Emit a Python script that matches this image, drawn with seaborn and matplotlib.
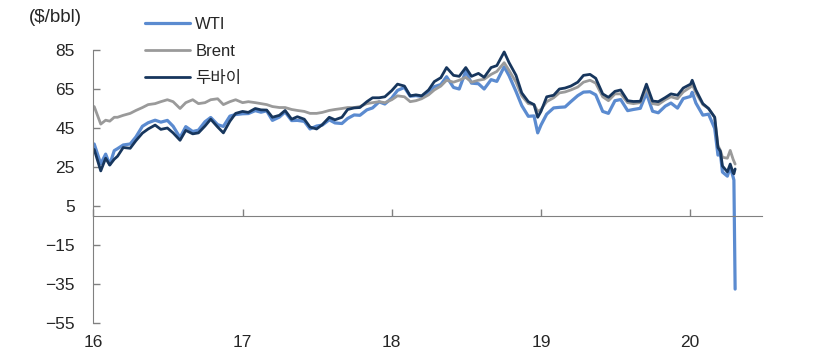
import pandas as pd
import matplotlib
matplotlib.use("Agg")
import matplotlib.pyplot as plt
import matplotlib.dates as mdates
import seaborn as sns

# semi-monthly dates, plus a few extra points where the price spiked or dipped
dates = [
    # 2016
    "2016-01-04", "2016-01-20", "2016-02-01", "2016-02-11", "2016-02-22", "2016-03-01",
    "2016-03-15", "2016-04-01", "2016-04-15", "2016-05-01", "2016-05-15", "2016-06-01",
    "2016-06-15", "2016-07-01", "2016-07-15", "2016-08-01", "2016-08-15", "2016-09-01",
    "2016-09-15", "2016-10-01", "2016-10-15", "2016-11-01", "2016-11-15", "2016-12-01",
    "2016-12-15",
    # 2017
    "2017-01-01", "2017-01-15", "2017-02-01", "2017-02-15", "2017-03-01", "2017-03-15",
    "2017-04-01", "2017-04-15", "2017-05-01", "2017-05-15", "2017-06-01", "2017-06-15",
    "2017-07-01", "2017-07-15", "2017-08-01", "2017-08-15", "2017-09-01", "2017-09-15",
    "2017-10-01", "2017-10-15", "2017-11-01", "2017-11-15", "2017-12-01", "2017-12-15",
    # 2018
    "2018-01-01", "2018-01-15", "2018-02-01", "2018-02-15", "2018-03-01", "2018-03-15",
    "2018-04-01", "2018-04-15", "2018-05-01", "2018-05-15", "2018-06-01", "2018-06-15",
    "2018-07-01", "2018-07-15", "2018-08-01", "2018-08-15", "2018-09-01", "2018-09-15",
    "2018-10-03", "2018-10-15", "2018-11-01", "2018-11-15", "2018-12-01", "2018-12-15",
    "2018-12-24",
    # 2019
    "2019-01-01", "2019-01-15", "2019-02-01", "2019-02-15", "2019-03-01", "2019-03-15",
    "2019-04-01", "2019-04-15", "2019-05-01", "2019-05-15", "2019-06-01", "2019-06-15",
    "2019-07-01", "2019-07-15", "2019-08-01", "2019-08-15", "2019-09-01", "2019-09-16",
    "2019-10-01", "2019-10-15", "2019-11-01", "2019-11-15", "2019-12-01", "2019-12-15",
    # 2020
    "2020-01-02", "2020-01-06", "2020-01-15", "2020-02-01", "2020-02-15", "2020-03-01",
    "2020-03-09", "2020-03-15", "2020-03-20", "2020-04-01", "2020-04-08", "2020-04-15",
    "2020-04-17", "2020-04-20",
]

wti = [
    36.8, 26.6, 31.6, 26.2, 33.4, 34.4, 36.3, 36.8, 40.4, 45.9, 47.7, 49.0, 48.0,
    48.9, 45.9, 40.1, 45.7, 43.2, 43.9, 48.2, 50.4, 46.7, 45.8, 51.1, 51.9,
    52.3, 52.4, 53.9, 53.1, 53.8, 48.9, 50.6, 53.2, 48.8, 48.9, 48.4, 44.5,
    46.0, 46.5, 49.2, 47.6, 47.3, 49.9, 51.7, 51.5, 54.3, 55.3, 58.4, 57.3,
    60.4, 64.3, 65.8, 61.3, 61.6, 61.2, 63.5, 66.2, 67.3, 71.3, 65.8, 65.0,
    74.1, 68.0, 67.7, 65.0, 69.8, 68.9, 76.4, 71.8, 63.7, 56.5, 51.0, 51.2, 42.5,
    46.5, 52.1, 55.3, 55.6, 55.8, 58.5, 61.6, 63.4, 63.6, 62.0, 53.5, 52.5,
    59.0, 59.6, 53.9, 54.5, 55.1, 62.9, 53.6, 52.8, 56.2, 57.8, 55.2, 60.1,
    61.2, 63.3, 57.8, 51.6, 52.1, 44.8, 31.1, 31.7, 22.4, 20.3, 25.1, 19.9, 18.3, -37.6,
]

brent = [
    56.0, 47.0, 49.0, 48.5, 50.5, 50.5, 51.5, 52.5, 54.0, 55.5, 57.0, 57.5, 58.5,
    59.5, 58.5, 55.0, 58.0, 59.5, 57.5, 58.0, 59.5, 60.0, 57.0, 58.5, 59.5,
    58.0, 58.5, 58.0, 57.5, 57.0, 56.0, 55.5, 55.5, 54.5, 54.0, 53.5, 52.5,
    52.5, 53.0, 54.0, 54.5, 55.0, 55.5, 55.5, 56.0, 57.5, 58.0, 58.5, 58.0,
    59.5, 61.5, 61.0, 58.5, 59.0, 60.0, 62.0, 64.5, 66.5, 69.5, 68.5, 69.5,
    71.0, 68.5, 69.5, 70.0, 72.5, 74.0, 78.5, 74.5, 68.5, 61.5, 57.5, 57.0, 53.5,
    54.5, 58.5, 60.5, 63.0, 63.5, 64.5, 66.0, 68.5, 69.5, 68.0, 61.0, 59.0,
    62.5, 62.5, 58.0, 57.5, 58.0, 65.5, 57.5, 57.0, 59.5, 61.0, 60.0, 63.5,
    66.0, 67.5, 63.0, 57.0, 55.0, 50.5, 36.0, 33.5, 30.0, 29.5, 33.5, 29.0, 28.0, 26.5,
]

dubai = [
    34.0, 23.0, 29.5, 26.0, 29.0, 30.5, 35.0, 34.6, 38.5, 42.4, 44.5, 46.5, 44.3,
    45.0, 42.5, 38.7, 43.8, 42.0, 42.5, 46.0, 49.5, 45.5, 42.5, 48.5, 52.5,
    53.5, 53.0, 55.0, 54.3, 54.2, 50.5, 51.5, 54.0, 49.5, 50.8, 49.5, 45.5,
    44.5, 46.7, 50.5, 49.2, 50.5, 54.5, 55.3, 55.5, 58.5, 60.5, 60.5, 61.0,
    64.2, 67.5, 66.5, 61.5, 62.0, 61.5, 64.5, 68.8, 70.8, 76.0, 72.0, 71.5,
    76.0, 71.5, 73.0, 71.0, 76.0, 77.0, 84.0, 78.5, 72.0, 63.0, 58.5, 57.0, 50.5,
    53.5, 61.0, 61.8, 65.0, 65.5, 66.5, 68.5, 72.0, 72.5, 70.5, 62.5, 60.7,
    63.8, 64.5, 59.0, 58.6, 58.7, 67.5, 58.8, 58.5, 60.6, 62.5, 61.8, 65.5,
    67.5, 69.5, 64.5, 57.5, 55.0, 50.5, 35.0, 33.0, 25.5, 22.5, 26.5, 22.0, 21.5, 24.0,
]

y_ticks = [-55, -35, -15, 5, 25, 45, 65, 85]

df = pd.DataFrame({"date": pd.to_datetime(dates), "WTI": wti, "Brent": brent, "두바이": dubai})

sns.set_style("white")
plt.rcParams["font.family"] = ["Liberation Sans", "Noto Sans CJK KR", "DejaVu Sans"]

fig = plt.figure(figsize=(8.2, 3.6), dpi=100)
ax = fig.add_axes([0.1134, 0.1028, 0.8155, 0.7583])

sns.lineplot(data=df, x="date", y="WTI", ax=ax, color="#5B8BD0", linewidth=2.3, label="WTI")
sns.lineplot(data=df, x="date", y="Brent", ax=ax, color="#9A9A9A", linewidth=2.0, label="Brent")
sns.lineplot(data=df, x="date", y="두바이", ax=ax, color="#17365D", linewidth=2.0, label="두바이")

ax.set_ylim(-55, 85)
ax.set_yticks(y_ticks)
ax.set_xlim(pd.Timestamp("2016-01-01"), pd.Timestamp("2020-06-24"))
ax.xaxis.set_major_locator(mdates.YearLocator())
ax.xaxis.set_major_formatter(mdates.DateFormatter("%y"))
ax.set_xlabel("")
ax.set_ylabel("")

for side in ["top", "right"]:
    ax.spines[side].set_visible(False)
ax.spines["left"].set_color("#808080")
ax.spines["bottom"].set_color("#808080")
ax.spines["bottom"].set_position(("data", 0))

ax.tick_params(axis="y", left=True, direction="in", length=5, width=1, color="#808080",
               labelsize=12.5, pad=13)
ax.tick_params(axis="x", bottom=True, direction="in", length=5, width=1, color="#808080",
               labelsize=12.5, pad=86)

ax.legend(loc="upper left", bbox_to_anchor=(0.162, 0.985), bbox_transform=fig.transFigure,
          frameon=False, fontsize=12, handlelength=2.75, handletextpad=0.3,
          labelspacing=0.72, borderaxespad=0.3)

fig.text(0.035, 0.952, "($/bbl)", fontsize=13.5, va="center")

fig.savefig("out.png", dpi=100)
